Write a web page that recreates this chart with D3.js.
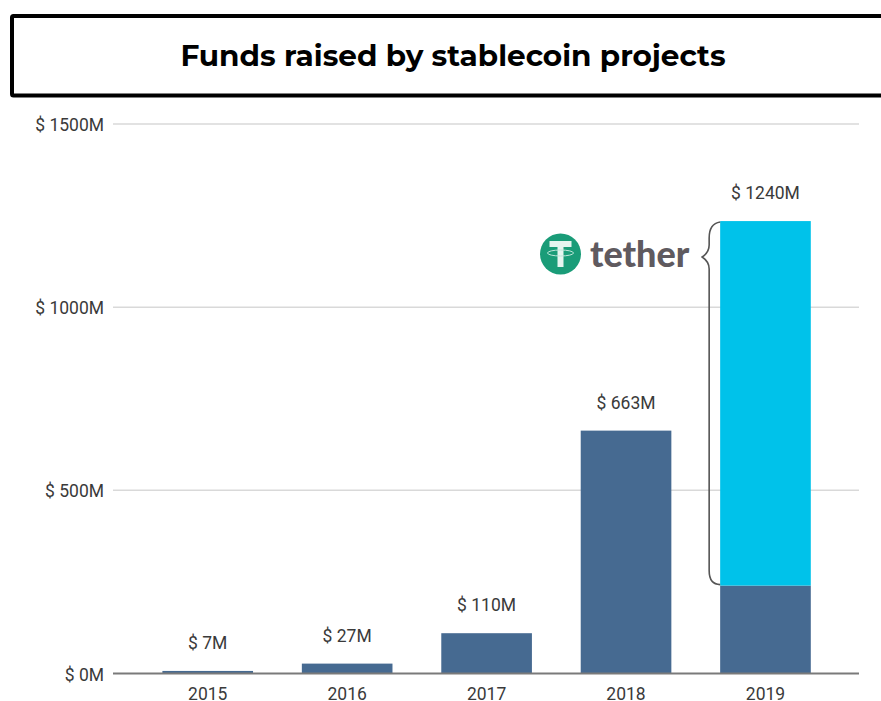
<!DOCTYPE html>
<html lang="en">
<head>
	<meta charset="UTF-8">
	<title>Funds raised by stablecoin projects</title>
	<script src="https://d3js.org/d3.v7.min.js"></script>
	<style>
		body, html {
			margin: 0;
			padding: 0;
			background: #fff;
			overflow: hidden;
		}
		svg {
			display: block;
		}
		text {
			font-family: Roboto, sans-serif;
			font-size: 17.5px;
			fill: #3a3a3a;
		}
		.title {
			font-family: Montserrat, Inter, sans-serif;
			font-size: 29.5px;
			font-weight: 700;
			fill: #000;
		}
		.grid {
			stroke: #d9d9d9;
			stroke-width: 1.5;
		}
		.baseline {
			stroke: #7a7a7a;
			stroke-width: 2;
		}
	</style>
</head>
<body>
<div id="chart"></div>
	<script>
		// Values, in $M
		const years = ["2015", "2016", "2017", "2018", "2019"];
		const otherFunds = [7, 27, 110, 663, 240];
		const tetherFunds = [0, 0, 0, 0, 995];
		const barLabels = ["$ 7M", "$ 27M", "$ 110M", "$ 663M", "$ 1240M"];
		const yTicks = [0, 500, 1000, 1500];

		const width = 881;
		const height = 701;

		const svg = d3.select("#chart")
			.append("svg")
			.attr("width", width)
			.attr("height", height);

		const x = d3.scaleBand()
			.domain(years)
			.range([113.6, 859.6])
			.padding(0.35);

		const y = d3.scaleLinear()
			.domain([0, 1500])
			.range([673.5, 124]);

		// Title box, runs off the right edge
		svg.append("rect")
			.attr("x", 12)
			.attr("y", 16)
			.attr("width", 880)
			.attr("height", 79.5)
			.attr("rx", 1.5)
			.attr("fill", "#fff")
			.attr("stroke", "#000")
			.attr("stroke-width", 4);

		svg.append("text")
			.attr("class", "title")
			.attr("x", 453)
			.attr("y", 66)
			.attr("text-anchor", "middle")
			.text("Funds raised by stablecoin projects");

		// Gridlines and y labels
		svg.selectAll(".grid")
			.data(yTicks.filter(d => d > 0))
			.enter()
			.append("line")
			.attr("class", "grid")
			.attr("x1", 113)
			.attr("x2", 859)
			.attr("y1", d => y(d))
			.attr("y2", d => y(d));

		svg.selectAll(".y-label")
			.data(yTicks)
			.enter()
			.append("text")
			.attr("class", "y-label")
			.attr("x", 104)
			.attr("y", d => y(d) + 7)
			.attr("text-anchor", "end")
			.text(d => `$ ${d}M`);

		// Stacked bars
		svg.selectAll(".bar-other")
			.data(years)
			.enter()
			.append("rect")
			.attr("class", "bar-other")
			.attr("x", d => x(d))
			.attr("width", x.bandwidth())
			.attr("y", (d, i) => y(otherFunds[i]))
			.attr("height", (d, i) => y(0) - y(otherFunds[i]))
			.attr("fill", "#466a91");

		svg.selectAll(".bar-tether")
			.data(years.filter((d, i) => tetherFunds[i] > 0))
			.enter()
			.append("rect")
			.attr("class", "bar-tether")
			.attr("x", d => x(d))
			.attr("width", x.bandwidth())
			.attr("y", d => y(otherFunds[years.indexOf(d)] + tetherFunds[years.indexOf(d)]))
			.attr("height", d => y(otherFunds[years.indexOf(d)]) - y(otherFunds[years.indexOf(d)] + tetherFunds[years.indexOf(d)]))
			.attr("fill", "#00c2ea");

		svg.append("line")
			.attr("class", "baseline")
			.attr("x1", 113)
			.attr("x2", 859)
			.attr("y1", y(0))
			.attr("y2", y(0));

		// Year labels under the axis
		svg.selectAll(".x-label")
			.data(years)
			.enter()
			.append("text")
			.attr("class", "x-label")
			.attr("x", d => x(d) + x.bandwidth() / 2)
			.attr("y", 700)
			.attr("text-anchor", "middle")
			.text(d => d);

		// Value labels sit a fixed gap above the bar
		svg.selectAll(".bar-label")
			.data(years)
			.enter()
			.append("text")
			.attr("class", "bar-label")
			.attr("x", d => x(d) + x.bandwidth() / 2)
			.attr("y", (d, i) => y(otherFunds[i] + tetherFunds[i]) - 22)
			.attr("text-anchor", "middle")
			.text((d, i) => barLabels[i]);

		// Curly brace next to the tether part of 2019
		const i2019 = years.indexOf("2019");
		const braceRight = x("2019");
		const braceTop = y(otherFunds[i2019] + tetherFunds[i2019]) + 1;
		const braceBottom = y(otherFunds[i2019]) - 1;
		const braceMid = 257;
		const stem = braceRight - 11;
		const tip = braceRight - 18;
		svg.append("path")
			.attr("fill", "none")
			.attr("stroke", "#555")
			.attr("stroke-width", 1.6)
			.attr("d", `M${braceRight},${braceTop}
				C${stem + 4},${braceTop + 1} ${stem},${braceTop + 6} ${stem},${braceTop + 16}
				L${stem},${braceMid - 12}
				C${stem},${braceMid - 5} ${tip + 3},${braceMid - 2} ${tip},${braceMid}
				C${tip + 3},${braceMid + 2} ${stem},${braceMid + 5} ${stem},${braceMid + 12}
				L${stem},${braceBottom - 14}
				C${stem},${braceBottom - 5} ${stem + 4},${braceBottom} ${braceRight},${braceBottom}`);

		// Tether logo: green coin with the T mark, then the word
		const logo = svg.append("g").attr("transform", "translate(560.5,254)");
		logo.append("circle")
			.attr("r", 20.5)
			.attr("fill", "#1a9c78");
		logo.append("path")
			.attr("fill", "#e6f5f0")
			.attr("d", "M-11,-13H11V-7H3V13H-3V-7H-11Z");
		logo.append("ellipse")
			.attr("cy", -1)
			.attr("rx", 13)
			.attr("ry", 3)
			.attr("fill", "none")
			.attr("stroke", "#bfe6da")
			.attr("stroke-width", 1);

		svg.append("text")
			.attr("x", 590)
			.attr("y", 267)
			.style("font-family", "Lato, sans-serif")
			.style("font-size", "36px")
			.style("font-weight", "900")
			.style("fill", "#5f5a5f")
			.text("tether");
	</script>
</body>
</html>
